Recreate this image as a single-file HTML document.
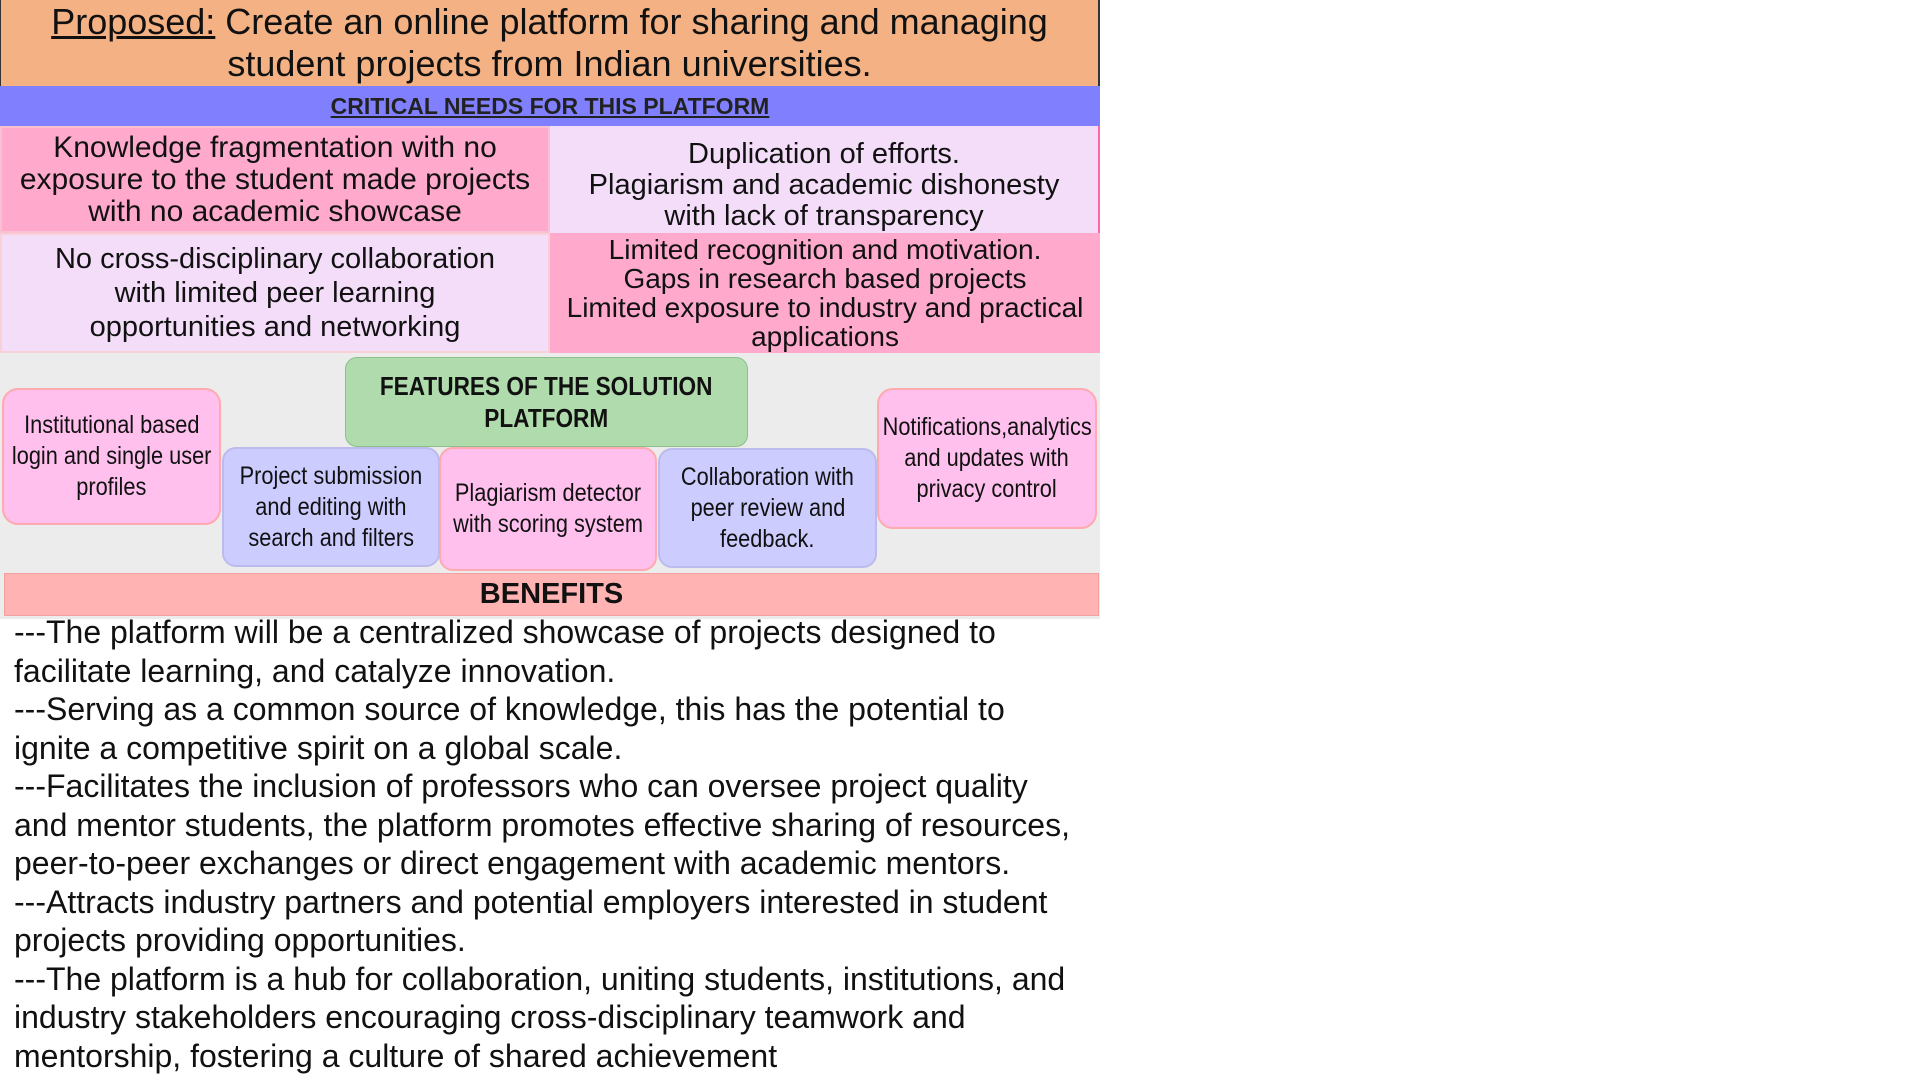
<!DOCTYPE html>
<html><head><meta charset="utf-8"><style>
body{margin:0;width:1920px;height:1080px;background:#fff;position:relative;overflow:hidden;font-family:"Liberation Sans",Arial,sans-serif;color:#111}
.a{position:absolute;box-sizing:border-box}
.c{display:flex;align-items:center;justify-content:center;text-align:center}
.n span{display:inline-block;transform:scaleX(0.87);white-space:nowrap}
.n{font-size:25px;line-height:31px}
</style></head><body>
<div class="a c" style="left:0;top:0;width:1100px;height:86px;background:#f4b183;border-right:2px solid #333;border-left:1px solid #333;font-size:36px;line-height:42px">
<div><u>Proposed:</u> Create an online platform for sharing and managing<br>student projects from Indian universities.</div></div>
<div class="a c" style="left:0;top:86px;width:1100px;height:40px;background:#8080ff;font-size:23px;font-weight:bold;text-decoration:underline;color:#222">CRITICAL NEEDS FOR THIS PLATFORM</div>
<div class="a c" style="left:0;top:126px;width:550px;height:107px;background:#ffaacc;border:2px solid #f8c0d0;font-size:30px;line-height:32px">Knowledge fragmentation with no<br>exposure to the student made projects<br>with no academic showcase</div>
<div class="a c" style="left:550px;top:126px;width:550px;height:107px;background:#f4ddf9;border-right:2px solid #f6a;font-size:29px;line-height:31px;padding-top:12px">Duplication of efforts.<br>Plagiarism and academic dishonesty<br>with lack of transparency</div>
<div class="a c" style="left:0;top:233px;width:550px;height:120px;background:#f4ddf9;border:2px solid #f8d0d8;font-size:29px;line-height:34px">No cross-disciplinary collaboration<br>with limited peer learning<br>opportunities and networking</div>
<div class="a c" style="left:550px;top:233px;width:550px;height:120px;background:#ffaacc;font-size:28px;line-height:29px">Limited recognition and motivation.<br>Gaps in research based projects<br>Limited exposure to industry and practical<br>applications</div>
<div class="a" style="left:0;top:353px;width:1100px;height:266px;background:#ececec"></div>
<div class="a c n" style="left:345px;top:357px;width:403px;height:90px;background:#b0dcad;border:1px solid #8cbf89;border-radius:12px;font-weight:bold;line-height:32px;font-size:26px"><div><span>FEATURES OF THE SOLUTION</span><br><span>PLATFORM</span></div></div>
<div class="a c n" style="left:2px;top:388px;width:219px;height:137px;background:#ffc0ee;border:2px solid #ffaab0;border-radius:16px"><div><span>Institutional based</span><br><span>login and single user</span><br><span>profiles</span></div></div>
<div class="a c n" style="left:222px;top:447px;width:218px;height:120px;background:#ccccff;border:2px solid #bbbbee;border-radius:14px"><div><span>Project submission</span><br><span>and editing with</span><br><span>search and filters</span></div></div>
<div class="a c n" style="left:439px;top:447px;width:218px;height:124px;background:#ffc0ee;border:2px solid #ffaab0;border-radius:14px"><div><span>Plagiarism detector</span><br><span>with scoring system</span></div></div>
<div class="a c n" style="left:658px;top:448px;width:219px;height:120px;background:#ccccff;border:2px solid #bbbbee;border-radius:14px"><div><span>Collaboration with</span><br><span>peer review and</span><br><span>feedback.</span></div></div>
<div class="a c n" style="left:877px;top:388px;width:220px;height:141px;background:#ffc0ee;border:2px solid #ffaab0;border-radius:16px"><div><span>Notifications,analytics</span><br><span>and updates with</span><br><span>privacy control</span></div></div>
<div class="a c" style="left:4px;top:573px;width:1095px;height:43px;background:#ffb3b3;border:1px solid #f5a0a0;font-size:29px;font-weight:bold">BENEFITS</div>
<div class="a" style="left:14px;top:613px;width:1110px;font-size:32px;line-height:38.5px;color:#111;white-space:nowrap">
---The platform will be a centralized showcase of projects designed to<br>facilitate learning, and catalyze innovation.<br>---Serving as a common source of knowledge, this has the potential to<br>ignite a competitive spirit on a global scale.<br>---Facilitates the inclusion of professors who can oversee project quality<br>and mentor students, the platform promotes effective sharing of resources,<br>peer-to-peer exchanges or direct engagement with academic mentors.<br>---Attracts industry partners and potential employers interested in student<br>projects providing opportunities.<br>---The platform is a hub for collaboration, uniting students, institutions, and<br>industry stakeholders encouraging cross-disciplinary teamwork and<br>mentorship, fostering a culture of shared achievement</div>
</body></html>
